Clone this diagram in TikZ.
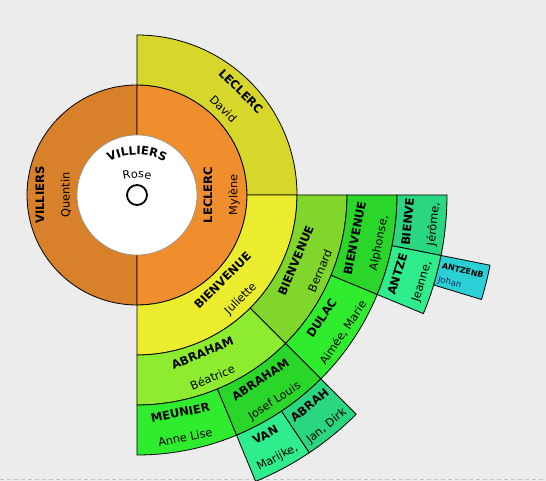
\documentclass[tikz,border=0pt]{standalone}
\usepackage{fontspec}
\setmainfont{DejaVu Sans}
\usetikzlibrary{decorations.text}
\definecolor{bg}{HTML}{ECECEC}
\definecolor{dashgray}{HTML}{C4C4C4}
\definecolor{cQuentin}{HTML}{D9802A}
\definecolor{cMylene}{HTML}{F08E2E}
\definecolor{cDavid}{HTML}{D6D62B}
\definecolor{cJuliette}{HTML}{ECEC2F}
\definecolor{cBernard}{HTML}{80D62B}
\definecolor{cBeatrice}{HTML}{8DEC2F}
\definecolor{cFour}{HTML}{2BD62B}
\definecolor{cFourM}{HTML}{2FEC2F}
\definecolor{cFive}{HTML}{2BD680}
\definecolor{cFiveM}{HTML}{2FEC8D}
\definecolor{cSix}{HTML}{2BD0D4}
\definecolor{navy}{HTML}{1C2E5E}
\newcommand\surf{\fontsize{11.6}{13}\selectfont\bfseries}
\newcommand\firf{\fontsize{11.3}{13}\selectfont}
\newcommand\smallsurf{\fontsize{8}{9}\selectfont\bfseries}
\newcommand\smallfirf{\fontsize{8.5}{9}\selectfont}
\tikzset{
  sector/.style={draw=black, line width=0.8pt, line join=round},
  sur/.style={inner sep=0pt, font=\surf},
  fir/.style={inner sep=0pt, font=\firf},
}
% #1 a1, #2 a2, #3 r1, #4 r2, #5 colour
\newcommand\fansector[5]{%
  \draw[sector, fill=#5] (#1:#3pt) arc[start angle=#1, end angle=#2, radius=#3pt]
    -- (#2:#4pt) arc[start angle=#2, end angle=#1, radius=#4pt] -- cycle;}
% #1 name, #2 angle, #3 rotation, #4 r surname, #5 r first, #6 surname, #7 first
\newcommand\fanlabel[7]{%
  \node[sur, rotate=#3] (#1s) at (#2:#4pt) {#6};
  \node[fir, rotate=#3] (#1f) at (#2:#5pt) {#7};}
\begin{document}
\begin{tikzpicture}[x=1pt,y=1pt]
\useasboundingbox (-137pt,-286pt) rectangle (409pt,195pt);
\fill[bg] (-137pt,-286pt) rectangle (409pt,195pt);
\draw[dashgray, line width=1pt, dash pattern=on 4pt off 3pt] (-137pt,-284.5pt) -- (409pt,-284.5pt);

% ring 1
\draw[sector, fill=cQuentin] (90:60pt) -- (90:110pt) arc[start angle=90, end angle=270, radius=110pt] -- (270:60pt);
\draw[sector, fill=cMylene] (-90:60pt) -- (-90:110pt) arc[start angle=-90, end angle=90, radius=110pt] -- (90:60pt);
% ring 2
\fansector{0}{90}{110}{160}{cDavid}
\fansector{-90}{0}{110}{160}{cJuliette}
% ring 3
\fansector{-45}{0}{160}{210}{cBernard}
\fansector{-90}{-45}{160}{210}{cBeatrice}
% ring 4
\fansector{-22.5}{0}{210}{260}{cFour}
\fansector{-45}{-22.5}{210}{260}{cFourM}
\fansector{-67.5}{-45}{210}{260}{cFour}
\fansector{-90}{-67.5}{210}{260}{cFourM}
% ring 5
\fansector{-11.25}{0}{260}{310}{cFive}
\fansector{-22.5}{-11.25}{260}{310}{cFiveM}
\fansector{-56.25}{-45}{260}{310}{cFive}
\fansector{-67.5}{-56.25}{260}{310}{cFiveM}
% ring 6
\fansector{-16.875}{-11.25}{310}{360}{cSix}

% centre
\draw[fill=white, draw=black!45, line width=0.6pt] (0,0) circle[radius=60pt];
\draw[fill=white, line width=1.8pt] (0,0) circle[radius=10pt];
\path[decorate, decoration={text along path, text align=center, text={|\surf|VILLIERS}}]
  ([shift={(0pt,-20pt)}]135:60pt) arc[start angle=135, end angle=45, radius=60pt];
\path[decorate, decoration={text along path, text align=center, text={|\firf|Rose}}]
  ([shift={(0pt,-37pt)}]125:54pt) arc[start angle=125, end angle=55, radius=54pt];

% labels
\fanlabel{quentin}{180}{90}{97}{71}{VILLIERS}{Quentin}
\fanlabel{mylene}{0}{90}{71}{97}{LECLERC}{Mylène}
\fanlabel{david}{45}{-45}{147}{122}{LECLERC}{David}
\fanlabel{juliette}{-45}{45}{121}{147}{BIENVENUE}{Juliette}
\fanlabel{bernard}{-22.5}{67.5}{172}{198}{BIENVENUE}{Bernard}
\fanlabel{beatrice}{-67.5}{22.5}{171}{197}{ABRAHAM}{Béatrice}
\fanlabel{alphonse}{-11.25}{78.75}{222}{247}{BIENVENUE}{Alphonse,}
\fanlabel{aimee}{-33.75}{56.25}{222}{248}{DULAC}{Aimée, Marie}
\fanlabel{josef}{-56.25}{33.75}{222}{248}{ABRAHAM}{Josef Louis}
\fanlabel{anne}{-78.75}{11.25}{222}{247}{MEUNIER}{Anne Lise}
\fanlabel{jerome}{-5.625}{84.375}{272}{298}{BIENVE}{Jérôme,}
\fanlabel{jeanne}{-16.875}{73.125}{272}{298}{ANTZE}{Jeanne,}
\fanlabel{jan}{-50.625}{39.375}{272}{299}{ABRAH}{Jan, Dirk}
\fanlabel{marijke}{-61.875}{28.125}{272}{298}{VAN}{Marijke,}
\begin{scope}[rotate=-14.0625]
  \node[inner sep=0pt, font=\smallsurf, anchor=west, rotate=-14.0625] (johans) at (313pt,6pt) {ANTZENB};
  \node[inner sep=0pt, font=\smallfirf, text=navy, anchor=west, rotate=-14.0625] (johanf) at (312.5pt,-9pt) {Johan};
\end{scope}
\end{tikzpicture}
\end{document}
